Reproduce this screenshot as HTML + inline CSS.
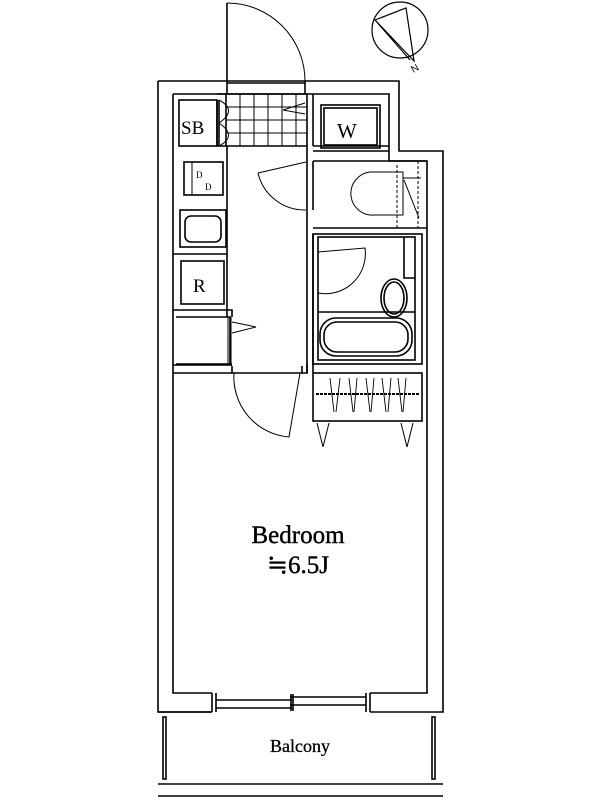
<!DOCTYPE html>
<html><head><meta charset="utf-8"><style>html,body{margin:0;padding:0;background:#fff}svg{display:block}</style></head>
<body>
<svg width="600" height="800" viewBox="0 0 600 800" xmlns="http://www.w3.org/2000/svg" fill="none" stroke="#000" stroke-width="1.6">
<path d="M158 81 H399 V151 H443 V712 H370 M212 712 H158 Z"/>
<path d="M158 81 V712 H212"/>
<path d="M173 94 H389 V161 H427 V693 H370 M212 693 H173 V94"/>
<path d="M212 693 V712 M370 693 V712 M216 693 V712 M366 693 V712"/>
<path d="M216 700 H292 M216 708 H292 M290 697 H366 M290 705 H366 M291 694 V711 M293 694 V711"/>
<rect x="163" y="717" width="3" height="62"/>
<rect x="432" y="717" width="3" height="62"/>
<path d="M158 784 H443 M158 796 H443"/>
<path d="M227 81 V94 M305 81 V94 M227 83 H305 M227 3 V81"/>
<path d="M227 3 A78 78 0 0 1 305 81" stroke-width="1"/>
<circle cx="400" cy="30" r="28" stroke-width="1.2"/>
<path d="M375 20 L406 8 L414 61 Z M375 20 L410 60" stroke-width="1.2"/>
<text x="411" y="72" font-family="Liberation Sans" font-size="10" fill="#000" stroke="none" transform="rotate(-30 414 68)">N</text>
<rect x="179" y="100" width="38" height="46"/>
<text x="181" y="134" font-family="Liberation Serif,serif" font-size="19" fill="#000" stroke="none">SB</text>
<path d="M217 100 V146 M219 100 V146"/>
<path d="M219 100 Q238 110 219 123 Q238 136 219 146" stroke-width="1"/>
<path d="M217 94 H307 M217 146 H307 M226 94 V146"/>
<path d="M240 94 V146 M254 94 V146 M268 94 V146 M282 94 V146 M296 94 V146 M226 107 H307 M226 120 H307 M226 133 H307" stroke-width="1"/>
<path d="M283 110 L305 103 M283 110 L305 114" stroke-width="1"/>
<path d="M307 94 V146 M313 94 V146 M307 146 V161 M313 161 V210 M307 161 V210 M307 210 V234 M307 234 V300 M313 234 V300 M307 300 V373 M313 300 V364"/>
<path d="M313 151 H389 M313 146 H389"/>
<rect x="321" y="105" width="59" height="43"/>
<rect x="324" y="108" width="53" height="37"/>
<text x="337" y="138" font-family="Liberation Serif,serif" font-size="21" fill="#000" stroke="none">W</text>
<path d="M313 161 H427 M313 228 H427" />
<path d="M258 173 L306 162 M258 173 A48 48 0 0 0 306 210" stroke-width="1"/>
<path d="M370 172 H403 V215 H375 A21 21 0 0 1 370 172 Z" stroke-width="1"/>
<path d="M397 165 V228 M418 161 V228" stroke-dasharray="3,2" stroke-width="1"/>
<path d="M403 178 H421 M404 180 L419 218" stroke-width="1"/>
<rect x="313" y="234" width="109" height="130"/>
<rect x="318" y="237" width="97" height="123"/>
<path d="M318 252 L365 248 A40 40 0 0 1 318 293" stroke-width="1"/>
<path d="M404 237 V278 H415 M318 312 H415"/>
<ellipse cx="394" cy="298" rx="13" ry="19"/>
<ellipse cx="394" cy="298" rx="10" ry="16"/>
<rect x="320" y="318" width="92" height="38" rx="16"/>
<rect x="324" y="322" width="84" height="30" rx="13"/>
<rect x="313" y="373" width="109" height="48"/>
<path d="M316 394 H420" stroke-dasharray="3,1" stroke-width="2"/>
<path d="M330 378 L334 412 M340 378 L336 412 M349 378 L353 412 M357 378 L354 412 M366 378 L370 412 M374 378 L371 412 M382 378 L386 412 M391 378 L388 412 M398 378 L402 412 M406 378 L403 412" stroke-width="0.9"/>
<path d="M317 423 L323 447 L329 423 M401 423 L407 447 L413 423" stroke-width="1"/>
<path d="M227 146 V317"/>
<rect x="184" y="162" width="39" height="33"/>
<path d="M192 162 V195" stroke-width="1"/>
<text x="196" y="178" font-family="Liberation Serif" font-size="9" fill="#000" stroke="none">D</text>
<text x="205" y="190" font-family="Liberation Serif" font-size="9" fill="#000" stroke="none">D</text>
<rect x="180" y="210" width="46" height="37"/>
<rect x="185" y="216" width="36" height="26" rx="6"/>
<rect x="181" y="261" width="43" height="43"/>
<text x="193" y="292" font-family="Liberation Serif,serif" font-size="19" fill="#000" stroke="none">R</text>
<path d="M173 254 H227 M173 310 H232 V317 M176 317 H230 V364 M176 364 H232"/>
<path d="M231 317 V366 M228 317 V364" stroke-width="1"/>
<path d="M232 322 L256 327 L232 333" stroke-width="1"/>
<path d="M173 365 H232 M173 373 H232 V366 M232 373 H302 M302 366 V373 H307 V364 M313 364 V373"/>
<path d="M234 373 A60 60 0 0 0 289 437 L300 373" stroke-width="1"/>
<text x="298" y="543" text-anchor="middle" font-family="Liberation Serif,serif" font-size="25" fill="#000" stroke="#000" stroke-width="0.4">Bedroom</text>
<text x="298" y="573" text-anchor="middle" font-family="Liberation Serif,'DejaVu Serif',serif" font-size="25" fill="#000" stroke="#000" stroke-width="0.4">≒6.5J</text>
<text x="300" y="752" text-anchor="middle" font-family="Liberation Serif,serif" font-size="18" fill="#000" stroke="#000" stroke-width="0.3">Balcony</text>
</svg>
</body></html>
